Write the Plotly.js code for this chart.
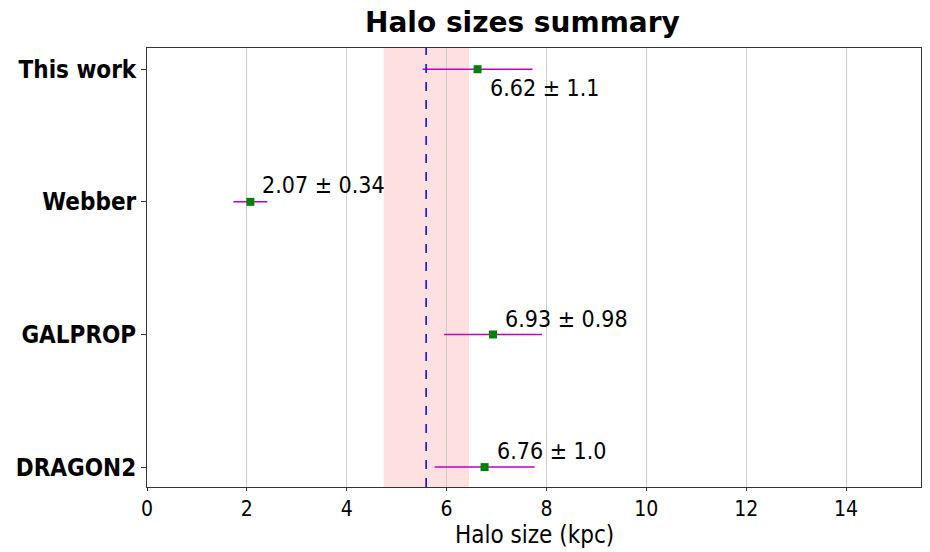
<!DOCTYPE html>
<html><head><meta charset="utf-8">
<script src="https://cdn.plot.ly/plotly-3.0.1.min.js"></script>
<style>body{margin:0;padding:0;background:#fff}#chart{width:930px;height:552px}</style>
</head><body><div id="chart"></div>
<script>
const categories = ["DRAGON2", "GALPROP", "Webber", "This work"];
const values = [6.76, 6.93, 2.07, 6.62];
const errors = [1.0, 0.98, 0.34, 1.1];
const labels = ["6.76 ± 1.0", "6.93 ± 0.98", "2.07 ± 0.34", "6.62 ± 1.1"];
const labelDy = [0.12, 0.12, 0.13, -0.14];
const bandLow = 4.74, bandHigh = 6.45, meanLine = 5.59;
const xTitle = "Halo size (kpc)";

const font = "DejaVu Sans, sans-serif";
const cfont = "DejaVu Sans Condensed, DejaVu Sans, sans-serif";
const trace = {
  x: values, y: [0,1,2,3], type: "scatter", mode: "markers",
  marker: {symbol: "square", color: "green", size: 8},
  error_x: {type: "data", array: errors, visible: true, color: "#c000c0", thickness: 1.5, width: 0},
  hoverinfo: "none", showlegend: false
};
const annotations = values.map((v, i) => ({
  x: v + 0.2, y: i + labelDy[i], xref: "x", yref: "y", text: labels[i],
  showarrow: false, xanchor: "left", yanchor: "middle",
  font: {family: cfont, size: 23, color: "black"}
}));
annotations.push({
  x: 0.5, y: -0.1458, xref: "paper", yref: "paper", text: xTitle, showarrow: false,
  xanchor: "center", yanchor: "bottom", font: {family: cfont, size: 24, color: "black"}
});
const layout = {
  width: 930, height: 552,
  margin: {l: 147, r: 9, t: 48, b: 65},
  paper_bgcolor: "white", plot_bgcolor: "white",
  title: {text: "<b>Halo sizes summary</b>", font: {family: font, size: 28, color: "black"},
    xref: "paper", x: 0.485, xanchor: "center", yref: "container", y: 0.96, yanchor: "middle"},
  xaxis: {range: [0, 15.5], tick0: 0, dtick: 2, showgrid: true, gridcolor: "#cccccc", gridwidth: 1,
    zeroline: false, showline: true, linecolor: "#333", linewidth: 1, mirror: true,
    ticks: "outside", ticklen: 3, tickcolor: "#333",
    tickfont: {family: cfont, size: 21, color: "black"}},
  yaxis: {range: [-0.15, 3.16], tickvals: [0,1,2,3], ticktext: categories.map(c => "<b>" + c + "</b>"),
    showgrid: false, zeroline: false, showline: true, linecolor: "#333", linewidth: 1, mirror: true,
    ticks: "outside", ticklen: 5, tickcolor: "#333",
    tickfont: {family: cfont, size: 24, color: "black"}},
  shapes: [
    {type: "rect", xref: "x", yref: "paper", x0: bandLow, x1: bandHigh, y0: 0, y1: 1,
     fillcolor: "rgba(255,0,0,0.12)", line: {width: 0}, layer: "below"},
    {type: "line", xref: "x", yref: "paper", x0: meanLine, x1: meanLine, y0: 0, y1: 1,
     line: {color: "blue", width: 1.5, dash: "dash"}, layer: "above"}
  ],
  annotations: annotations
};
Plotly.newPlot("chart", [trace], layout, {displayModeBar: false, staticPlot: true});
</script></body></html>
